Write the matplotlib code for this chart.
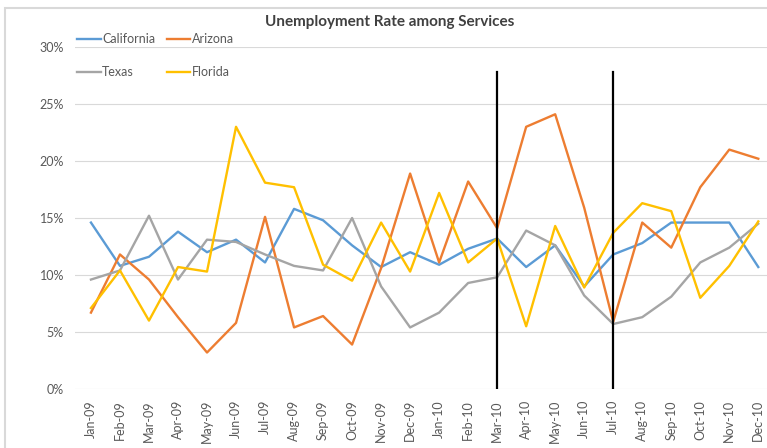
import matplotlib.pyplot as plt

plt.rcParams['font.family'] = ['Lato', 'DejaVu Sans']

months = ["Jan-09", "Feb-09", "Mar-09", "Apr-09", "May-09", "Jun-09", "Jul-09", "Aug-09",
          "Sep-09", "Oct-09", "Nov-09", "Dec-09", "Jan-10", "Feb-10", "Mar-10", "Apr-10",
          "May-10", "Jun-10", "Jul-10", "Aug-10", "Sep-10", "Oct-10", "Nov-10", "Dec-10"]

california = [14.6, 10.8, 11.6, 13.8, 12.0, 13.1, 11.1, 15.8, 14.8, 12.6, 10.7, 12.0,
              10.9, 12.3, 13.2, 10.7, 12.6, 9.0, 11.8, 12.8, 14.6, 14.6, 14.6, 10.7]
arizona = [6.7, 11.8, 9.6, 6.3, 3.2, 5.8, 15.1, 5.4, 6.4, 3.9, 10.6, 18.9,
           11.1, 18.2, 14.1, 23.0, 24.1, 15.9, 5.9, 14.6, 12.4, 17.7, 21.0, 20.2]
texas = [9.6, 10.4, 15.2, 9.6, 13.1, 12.9, 11.8, 10.8, 10.4, 15.0, 9.0, 5.4,
         6.7, 9.3, 9.8, 13.9, 12.6, 8.2, 5.7, 6.3, 8.1, 11.1, 12.4, 14.5]
florida = [7.1, 10.4, 6.0, 10.7, 10.3, 23.0, 18.1, 17.7, 10.9, 9.5, 14.6, 10.3,
           17.2, 11.1, 13.2, 5.5, 14.3, 8.9, 13.7, 16.3, 15.6, 8.0, 10.8, 14.7]

# hand-drawn marker lines on the original
markers = ["Mar-10", "Jul-10"]
marker_top = 27.8

fig = plt.figure(figsize=(7.67, 4.48), dpi=100)
ax = fig.add_axes([75 / 767, 59 / 448, 692 / 767, 342 / 448])

x = range(len(months))
lines = {}
for vals, name, col in [(california, "California", "#5B9BD5"),
                        (arizona, "Arizona", "#ED7D31"),
                        (texas, "Texas", "#A5A5A5"),
                        (florida, "Florida", "#FFC000")]:
    ln, = ax.plot(x, vals, color=col, lw=1.7, label=name)
    lines[name] = ln

for m in markers:
    i = months.index(m)
    ax.plot([i, i], [0, marker_top], color="black", lw=1.6, zorder=5)

ax.set_xlim(-0.55, 23.3)
ax.set_ylim(0, 30)
ax.set_yticks([0, 5, 10, 15, 20, 25, 30])
ax.set_yticklabels([f"{v}%" for v in [0, 5, 10, 15, 20, 25, 30]], fontsize=9, color="#595959")
ax.set_xticks(list(x))
ax.set_xticklabels(months, rotation=90, fontsize=9, color="#595959")
ax.tick_params(length=0, pad=8)
ax.grid(axis="y", color="#D9D9D9", lw=0.8)
ax.set_axisbelow(True)
for s in ax.spines.values():
    s.set_visible(False)

fig.text(390 / 767, 1 - 22 / 448, "Unemployment Rate among Services", ha="center", va="center",
         fontsize=11, fontweight="bold", color="#404040")

# column-major fill, so order gives rows California/Arizona and Texas/Florida
order = ["California", "Texas", "Arizona", "Florida"]
fig.legend(handles=[lines[n] for n in order], ncol=2, loc="upper left",
           bbox_to_anchor=(66 / 767, 1 - 22 / 448),
           frameon=False, fontsize=9, handlelength=1.9, handletextpad=0.1,
           labelspacing=1.7, columnspacing=0.9, labelcolor="#595959")

# outer frame of the screenshot
fig.add_artist(plt.Rectangle((5 / 767, -0.01), 1.0, 1 - 4 / 448, transform=fig.transFigure,
                             fill=False, edgecolor="#D9D9D9", lw=1.5))

fig.savefig("out.png", dpi=100)
